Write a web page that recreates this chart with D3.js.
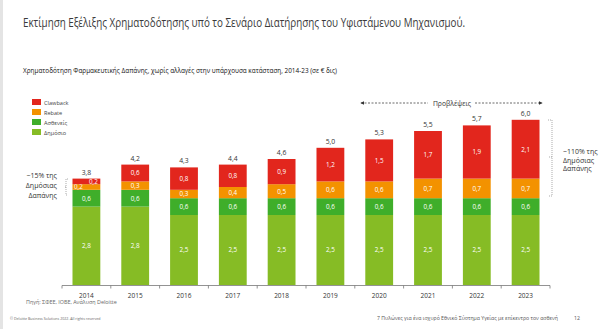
<!DOCTYPE html>
<html><head><meta charset="utf-8">
<script src="https://cdn.jsdelivr.net/npm/d3@7"></script>
<style>body{margin:0;background:#fff}svg{display:block}text{font-family:"Open Sans",Lato,sans-serif}</style>
</head><body><svg id="c" width="600" height="329"></svg>
<script>
const years = ["2014","2015","2016","2017","2018","2019","2020","2021","2022","2023"];
const dimosio   = [2.8,2.8,2.5,2.5,2.5,2.5,2.5,2.5,2.5,2.5];
const astheneis = [0.6,0.6,0.6,0.6,0.6,0.6,0.6,0.6,0.6,0.6];
const rebate    = [0.2,0.3,0.3,0.4,0.5,0.6,0.6,0.7,0.7,0.7];
const clawback  = [0.2,0.6,0.8,0.8,0.9,1.2,1.5,1.7,1.9,2.1];
const totals    = [3.8,4.2,4.3,4.4,4.6,5.0,5.3,5.5,5.7,6.0];
const seriesNames = ["Δημόσιο","Ασθενείς","Rebate","Clawback"];
const seriesColors = ["#86bc25","#3fae2a","#f39200","#e2261d"];
const fmt = v => d3.format(".1f")(v).replace(".", ",");

const svg = d3.select("#c");
svg.append("rect").attr("x",0).attr("y",0).attr("width",3).attr("height",329).attr("fill","#e4e4e4");

svg.append("text").attr("x",23).attr("y",27).attr("font-size",12.5).attr("fill","#3a3a3a")
  .attr("textLength",442).attr("lengthAdjust","spacingAndGlyphs")
  .text("Εκτίμηση Εξέλιξης Χρηματοδότησης υπό το Σενάριο Διατήρησης του Υφιστάμενου Μηχανισμού.");
svg.append("text").attr("x",23).attr("y",73).attr("font-size",7.4).attr("fill","#111")
  .attr("textLength",314).attr("lengthAdjust","spacingAndGlyphs")
  .text("Χρηματοδότηση Φαρμακευτικής Δαπάνης, χωρίς αλλαγές στην υπάρχουσα κατάσταση, 2014-23 (σε € δις)");

const x = d3.scaleBand().domain(years).range([62,550]).paddingInner(0.43).paddingOuter(0.215);
const y = d3.scaleLinear().domain([0,6]).range([285,117]);

const rows = years.map((yr,i)=>({year:yr, "Δημόσιο":dimosio[i], "Ασθενείς":astheneis[i], "Rebate":rebate[i], "Clawback":clawback[i]}));
const stack = d3.stack().keys(seriesNames)(rows);

const g = svg.append("g");
stack.forEach((s,si)=>{
  const gg = g.append("g").attr("fill", seriesColors[si]);
  gg.selectAll("rect").data(s).join("rect")
    .attr("x", d=>x(d.data.year)).attr("width", x.bandwidth())
    .attr("y", d=>y(d[1])).attr("height", d=>y(d[0])-y(d[1]));
  g.append("g").selectAll("text").data(s).join("text")
    .attr("x", d=>{
      const v=d[1]-d[0]; let cx=x(d.data.year)+x.bandwidth()/2;
      if (v<0.25 && si===2) cx-=8; if (v<0.25 && si===3) cx+=7; return cx;})
    .attr("y", d=>(y(d[0])+y(d[1]))/2+2.3)
    .attr("text-anchor","middle").attr("font-size",6.3).attr("fill","#fff")
    .text(d=>fmt(d[1]-d[0]));
});
g.append("g").selectAll("text").data(rows).join("text")
  .attr("x", d=>x(d.year)+x.bandwidth()/2)
  .attr("y", (d,i)=>y(d3.sum(seriesNames,k=>d[k]))-4)
  .attr("text-anchor","middle").attr("font-size",6.8).attr("fill","#333")
  .text((d,i)=>fmt(totals[i]));

const ax = svg.append("g");
ax.append("line").attr("x1",62).attr("x2",550).attr("y1",285.5).attr("y2",285.5).attr("stroke","#777").attr("stroke-width",0.8);
d3.range(11).forEach(i=>{
  const tx = 62 + i*(488/10);
  ax.append("line").attr("x1",tx).attr("x2",tx).attr("y1",285.5).attr("y2",288.5).attr("stroke","#777").attr("stroke-width",0.8);
});
ax.selectAll("text.yr").data(years).join("text").attr("class","yr")
  .attr("x", d=>x(d)+x.bandwidth()/2).attr("y",297.5).attr("text-anchor","middle")
  .attr("font-size",6.5).attr("fill","#333").text(d=>d);

const leg = svg.append("g");
["Clawback","Rebate","Ασθενείς","Δημόσιο"].forEach((n,i)=>{
  const ci = seriesNames.indexOf(n);
  leg.append("rect").attr("x",32).attr("y",99+i*10).attr("width",9).attr("height",6).attr("fill",seriesColors[ci]);
  leg.append("text").attr("x",44).attr("y",104.5+i*10).attr("font-size",5.6).attr("fill","#444").text(n);
});

const la = svg.append("g").attr("font-size",7).attr("fill","#333").attr("text-anchor","end");
["~15% της","Δημόσιας","Δαπάνης"].forEach((t,i)=>la.append("text").attr("x",57).attr("y",178+i*10).text(t));
svg.append("path").attr("d","M68,179 L66,179 L66,195 L68,195 M66,187 L64,187").attr("fill","none")
  .attr("stroke","#888").attr("stroke-width",0.7).attr("stroke-dasharray","1,1");

const ra = svg.append("g").attr("font-size",7).attr("fill","#333");
["~110% της","Δημόσιας","Δαπάνης"].forEach((t,i)=>ra.append("text").attr("x",563).attr("y",154+i*8.5).text(t));
svg.append("path").attr("d","M548,120 L552,120 L552,196 L548,196 M552,157 L549,157").attr("fill","none")
  .attr("stroke","#888").attr("stroke-width",0.7).attr("stroke-dasharray","1,1");

const fy = 103;
svg.append("defs").html('<marker id="ah" viewBox="0 0 6 6" refX="5" refY="3" markerWidth="5" markerHeight="5" orient="auto-start-reverse"><path d="M0,0 L6,3 L0,6 z" fill="#333"/></marker>');
svg.append("line").attr("x1",361).attr("x2",428).attr("y1",fy).attr("y2",fy).attr("stroke","#444").attr("stroke-width",0.8)
  .attr("stroke-dasharray","2,1.5").attr("marker-start","url(#ah)");
svg.append("line").attr("x1",475).attr("x2",542).attr("y1",fy).attr("y2",fy).attr("stroke","#444").attr("stroke-width",0.8)
  .attr("stroke-dasharray","2,1.5").attr("marker-end","url(#ah)");
svg.append("text").attr("x",452).attr("y",fy+2.5).attr("text-anchor","middle").attr("font-size",6.8).attr("fill","#333").text("Προβλέψεις");

svg.append("text").attr("x",26).attr("y",304).attr("font-size",5.4).attr("fill","#666").text("Πηγή: ΣΦΕΕ, ΙΟΒΕ, Ανάλυση Deloitte");
svg.append("text").attr("x",10).attr("y",320).attr("font-size",3.6).attr("fill","#666").text("© Deloitte Business Solutions 2022. All rights reserved");
svg.append("text").attr("x",377).attr("y",320).attr("font-size",5.2).attr("fill","#555")
  .attr("textLength",181).attr("lengthAdjust","spacingAndGlyphs")
  .text("7 Πυλώνες για ένα ισχυρό Εθνικό Σύστημα Υγείας με επίκεντρο τον ασθενή");
svg.append("text").attr("x",574).attr("y",320).attr("font-size",5.2).attr("fill","#555").text("12");
</script></body></html>
